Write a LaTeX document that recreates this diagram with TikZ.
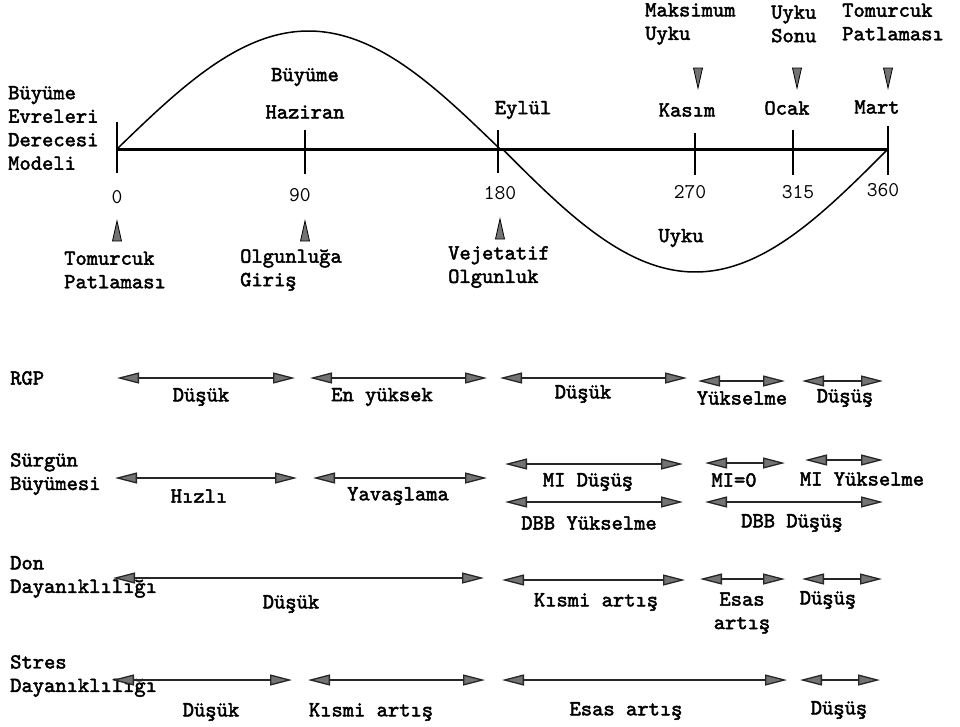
\documentclass[tikz,border=0pt]{standalone}
\usepackage{fontspec}
\newfontfamily\twb{lmmono10-regular.otf}[FakeBold=2.2]
\usetikzlibrary{arrows.meta}
\newcommand{\sarrow}[4]{%
  \coordinate (#1a) at (#2,#4);
  \coordinate (#1b) at (#3,#4);
  \draw[twoway] (#1a) -- (#1b);}
\newcommand{\uptri}[3]{\filldraw[marker] (#2-4.5,#3+20) -- (#2,#3) -- (#2+4.5,#3+20) -- cycle; \coordinate (#1) at (#2,#3);}
\newcommand{\downtri}[3]{\filldraw[marker] (#2-4.5,#3) -- (#2,#3+20) -- (#2+4.5,#3) -- cycle; \coordinate (#1) at (#2,#3);}
\begin{document}
\begin{tikzpicture}[x=1pt,y=-1pt,
  lbl/.style={font=\fontsize{21.5}{23.5}\selectfont\twb, inner sep=0pt, align=center},
  lbll/.style={lbl, align=left},
  num/.style={font=\fontsize{21}{23}\selectfont\ttfamily, inner sep=0pt},
  twoway/.style={{Triangle[length=22pt,width=11pt,fill=black!55]}-{Triangle[length=22pt,width=11pt,fill=black!55]}, line width=1.3pt, draw=black!85},
  marker/.style={fill=black!55, draw=black, line width=0.8pt},
  tick/.style={line width=1.6pt},
  curve/.style={line width=1.5pt}
]
\useasboundingbox (0,0) rectangle (960,726);

% axis and ticks
\coordinate (t0) at (117,149);
\coordinate (t90) at (305,149);
\coordinate (t180) at (498,149);
\coordinate (t270) at (695,149);
\coordinate (t315) at (793,149);
\coordinate (t360) at (888,149);
\draw[line width=3pt] (t0) -- (t360);
\draw[tick] (117,122) -- (117,173);
\draw[tick] (305,130) -- (305,174);
\draw[tick] (498,130) -- (498,173);
\draw[tick] (695,133) -- (695,175);
\draw[tick] (793,130) -- (793,175);
\draw[tick] (888,126) -- (888,175);

% sine curve
\draw[curve, domain=0:180, samples=80, smooth] plot ({117+2.1278*\x},{149-118*sin(\x)});
\draw[curve, domain=180:360, samples=80, smooth] plot ({117+2.1417*\x},{149-123*sin(\x)});

% left title
\node[lbll, anchor=west] (model) at (8,128) {Büyüme\\Evreleri\\Derecesi\\Modeli};

% top labels
\node[lbl] (buyume) at (305,77) {Büyüme};
\node[lbl] (haziran) at (305,112) {Haziran};
\node[lbl] (eylul) at (523,110) {Eylül};
\node[lbl] (kasim) at (687,110) {Kasım};
\node[lbl] (ocak) at (787,108) {Ocak};
\node[lbl] (mart) at (877,107) {Mart};
\node[lbll, anchor=west] (maks) at (645,24) {Maksimum\\Uyku};
\node[lbll, anchor=west] (sonu) at (771,24) {Uyku\\Sonu};
\node[lbll, anchor=west] (tp2) at (842,22) {Tomurcuk\\Patlaması};
\downtri{d270}{698}{68}
\downtri{d315}{797}{68}
\downtri{d360}{888}{68}

% numbers
\node[num] (n0) at (117,197) {0};
\node[num] (n90) at (300,195) {90};
\node[num] (n180) at (500,193) {180};
\node[num] (n270) at (690,192) {270};
\node[num] (n315) at (798,192) {315};
\node[num] (n360) at (883,190) {360};

% bottom markers and labels
\uptri{u0}{117}{221}
\uptri{u90}{305}{221}
\uptri{u180}{500}{219}
\node[lbll, anchor=west] (tp1) at (64,270) {Tomurcuk\\Patlaması};
\node[lbll, anchor=west] (olg) at (240,270) {Olgunluğa\\Giriş};
\node[lbll, anchor=west] (vej) at (448,267) {Vejetatif\\Olgunluk};
\node[lbl] (uyku) at (681,238) {Uyku};

% row labels
\node[lbll, anchor=west] (rgp) at (10,378) {RGP};
\node[lbll, anchor=west] (surgun) at (10,474) {Sürgün\\Büyümesi};
\node[lbll, anchor=west] (don) at (10,577) {Don\\Dayanıklılığı};
\node[lbll, anchor=west] (stres) at (10,676) {Stres\\Dayanıklılığı};

% RGP row
\sarrow{r1}{117}{295}{378}
\sarrow{r2}{310}{487}{378}
\sarrow{r3}{500}{687}{378}
\sarrow{r4}{698}{785}{381}
\sarrow{r5}{802}{883}{381}
\node[lbl] (r1l) at (201,397) {Düşük};
\node[lbl] (r2l) at (382,397) {En yüksek};
\node[lbl] (r3l) at (583,394) {Düşük};
\node[lbl] (r4l) at (742,398) {Yükselme};
\node[lbl] (r5l) at (845,398) {Düşüş};

% Surgun row
\sarrow{s1}{115}{297}{478}
\sarrow{s2}{313}{487}{478}
\sarrow{s3}{505}{683}{464}
\sarrow{s4}{505}{683}{502}
\sarrow{s5}{705}{785}{463}
\sarrow{s6}{805}{883}{460}
\sarrow{s7}{705}{883}{502}
\node[lbl] (s1l) at (199,496) {Hızlı};
\node[lbl] (s2l) at (398,496) {Yavaşlama};
\node[lbl] (s3l) at (588,482) {MI Düşüş};
\node[lbl] (s4l) at (589,523) {DBB Yükselme};
\node[lbl] (s5l) at (734,480) {MI=0};
\node[lbl] (s6l) at (862,479) {MI Yükselme};
\node[lbl] (s7l) at (792,523) {DBB Düşüş};

% Don row
\sarrow{d1}{113}{484}{578}
\sarrow{d2}{502}{685}{580}
\sarrow{d3}{700}{785}{579}
\sarrow{d4}{802}{882}{579}
\node[lbl] (d1l) at (291,604) {Düşük};
\node[lbl] (d2l) at (596,602) {Kısmi artış};
\node[lbl] (d3l) at (742,613) {Esas\\artış};
\node[lbl] (d4l) at (828,600) {Düşüş};

% Stres row
\sarrow{e1}{112}{292}{680}
\sarrow{e2}{308}{485}{680}
\sarrow{e3}{502}{787}{680}
\sarrow{e4}{800}{880}{680}
\node[lbl] (e1l) at (211,712) {Düşük};
\node[lbl] (e2l) at (371,712) {Kısmi artış};
\node[lbl] (e3l) at (626,711) {Esas artış};
\node[lbl] (e4l) at (839,710) {Düşüş};
\end{tikzpicture}
\end{document}
